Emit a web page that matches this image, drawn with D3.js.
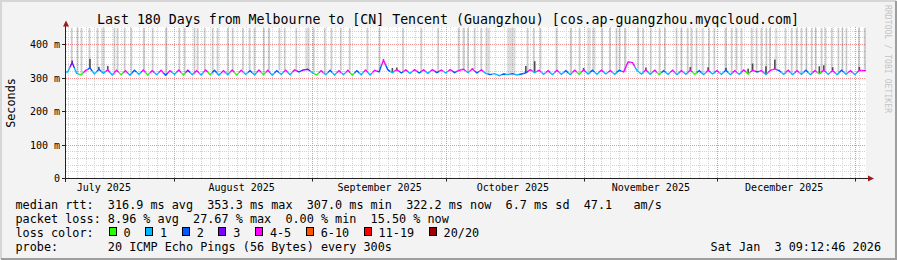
<!DOCTYPE html>
<html>
<head>
<meta charset="utf-8">
<script src="https://cdn.jsdelivr.net/npm/d3@7"></script>
<style>
  body { margin: 0; background: #f3f3f3; }
  svg { display: block; }
  text { font-family: "DejaVu Sans Mono", monospace; fill: #000; white-space: pre; }
</style>
</head>
<body>
<div id="chart"></div>
<script>
const titleText = "Last 180 Days from Melbourne to [CN] Tencent (Guangzhou) [cos.ap-guangzhou.myqcloud.com]";
const endTime = new Date(Date.UTC(2026, 0, 3, 9, 12, 46));
const spanDays = 180;

const yTicks = [0, 100, 200, 300, 400];
const yTickLabels = ["0", "100 m", "200 m", "300 m", "400 m"];

// one median rtt value (ms) per day, oldest first
const medianMs = [
  318, 346, 314, 309, 322, 330, 312, 326, 314, 324,
  309, 323, 310, 322, 308, 323, 311, 324, 309, 322,
  310, 323, 308, 322, 311, 324, 309, 323, 310, 322,
  309, 324, 310, 323, 308, 322, 310, 324, 309, 323,
  311, 322, 309, 324, 310, 323, 308, 322, 311, 323,
  310, 324, 318, 324, 326, 316, 309, 322, 310, 323,
  309, 322, 310, 323, 308, 322, 310, 324, 309, 323,
  318, 353, 324, 316, 325, 315, 324, 314, 325, 315,
  324, 314, 325, 316, 324, 315, 325, 316, 323, 326,
  316, 327, 315, 324, 314, 310, 313, 307, 312, 310,
  313, 309, 312, 315, 325, 316, 323, 311, 322, 310,
  323, 311, 322, 310, 323, 311, 324, 312, 323, 311,
  323, 312, 322, 311, 323, 318, 348, 346, 322, 312,
  324, 311, 323, 310, 322, 311, 323, 310, 322, 311,
  323, 311, 322, 310, 323, 312, 322, 311, 323, 310,
  322, 311, 324, 312, 323, 318, 322, 310, 323, 327,
  322, 311, 323, 310, 322, 311, 323, 310, 322, 312,
  323, 311, 322, 310, 323, 311, 322, 310, 323, 322
];

// lost pings (of 20) per day
const lossCount = [
  1, 3, 1, 0, 4, 2, 1, 2, 1, 4,
  1, 4, 0, 4, 1, 2, 1, 4, 0, 4,
  1, 4, 2, 4, 1, 4, 0, 3, 1, 4,
  1, 4, 0, 2, 1, 4, 1, 4, 0, 4,
  1, 2, 1, 4, 0, 4, 1, 2, 1, 4,
  1, 4, 2, 3, 3, 1, 0, 4, 1, 2,
  1, 4, 1, 4, 0, 2, 1, 4, 1, 4,
  2, 4, 2, 1, 4, 2, 4, 1, 4, 2,
  4, 1, 5, 2, 4, 1, 4, 2, 4, 5,
  1, 4, 2, 4, 1, 2, 1, 1, 2, 1,
  2, 1, 2, 2, 4, 1, 4, 1, 4, 1,
  4, 1, 2, 1, 4, 0, 4, 1, 2, 1,
  4, 1, 4, 1, 2, 4, 5, 4, 1, 1,
  4, 1, 4, 0, 2, 1, 4, 1, 4, 1,
  4, 0, 2, 1, 4, 1, 4, 1, 2, 1,
  4, 1, 4, 0, 4, 2, 4, 1, 4, 5,
  2, 1, 4, 1, 4, 1, 2, 1, 4, 0,
  4, 1, 4, 1, 2, 1, 4, 1, 4, 4
];

// smoke spikes: day index and highest ping (ms)
const smokeDay = [1, 5, 7, 9, 71, 73, 74, 91, 103, 105, 116, 130, 140, 144, 148, 153, 154, 157, 159, 169, 170, 172, 178];
const smokeTop = [352, 357, 333, 336, 356, 330, 331, 329, 336, 350, 330, 331, 333, 332, 330, 328, 343, 335, 355, 335, 338, 332, 333];

// periods where pings were lost: [start day, length in days]
const lossBars = [
  [1.2, 0.4], [2.5, 0.4], [3.4, 0.4], [5.2, 0.4], [7.0, 0.4], [8.0, 0.9], [10.8, 0.4], [11.5, 0.4],
  [13.1, 0.4], [14.6, 0.4], [17.4, 0.5], [19.4, 0.4], [22.4, 0.5], [25.4, 0.4], [26.6, 0.4], [28.8, 0.4],
  [29.5, 0.4], [31.1, 0.4], [32.9, 0.4], [34.0, 0.4], [36.3, 0.4], [37.4, 0.4], [39.7, 0.4], [41.2, 0.4],
  [42.3, 0.4], [44.4, 0.4], [45.5, 0.5], [47.9, 0.4], [49.1, 0.4], [51.7, 0.4], [53.9, 1.0], [55.6, 0.4],
  [58.1, 0.4], [59.6, 0.4], [61.7, 0.4], [63.7, 0.4], [67.7, 0.4], [70.4, 0.4], [75.7, 0.4], [79.8, 0.4],
  [83.6, 0.4], [88.2, 0.4], [89.3, 0.5], [90.3, 0.4], [91.8, 0.4], [93.3, 0.4], [94.4, 1.1], [99.3, 1.9],
  [103.7, 0.4], [105.1, 0.4], [106.6, 0.4], [110.2, 0.4], [113.4, 0.5], [115.4, 0.4], [117.3, 0.8], [118.4, 0.8],
  [120.5, 0.4], [122.2, 0.4], [123.7, 0.4], [124.4, 0.4], [125.6, 0.5], [128.6, 0.4], [129.7, 0.4], [131.4, 0.4],
  [133.4, 0.4], [134.6, 0.4], [137.2, 0.4], [138.3, 0.4], [139.7, 0.4], [140.6, 0.4], [141.7, 0.4], [143.0, 0.6],
  [144.5, 0.4], [145.7, 0.4], [148.2, 0.5], [149.6, 0.4], [150.7, 0.4], [151.8, 0.4], [154.1, 0.4], [155.2, 0.4],
  [156.3, 0.4], [157.4, 0.4], [158.2, 0.4], [159.5, 0.6], [161.7, 0.4], [163.1, 0.4], [164.2, 0.4], [165.3, 0.4],
  [166.4, 0.4], [167.6, 0.4], [168.5, 0.4], [169.8, 0.4], [170.7, 0.4], [172.1, 0.4], [173.6, 0.4], [174.5, 0.4],
  [175.4, 0.4], [178.2, 0.4], [179.5, 0.5]
];

const lossLabels = ["0", "1", "2", "3", "4-5", "6-10", "11-19", "20/20"];
const lossUpper = [0, 1, 2, 3, 5, 10, 19, 20];
const lossColors = ["#26ff00", "#00b8ff", "#0059ff", "#7e00ff", "#ff00ff", "#ff5500", "#ff0000", "#a00000"];

const statLines = [
  "median rtt:  316.9 ms avg  353.3 ms max  307.0 ms min  322.2 ms now  6.7 ms sd  47.1   am/s",
  "packet loss: 8.96 % avg  27.67 % max  0.00 % min  15.50 % now",
  "loss color:",
  "probe:       20 ICMP Echo Pings (56 Bytes) every 300s"
];
const stampText = "Sat Jan  3 09:12:46 2026";

const width = 897, height = 260;
const plot = { left: 65.5, right: 866, top: 27, bottom: 178.5 };
const startTime = new Date(endTime.getTime() - spanDays * 864e5);
const dayToDate = (d) => new Date(startTime.getTime() + d * 864e5);

const svg = d3.select("#chart").append("svg")
  .attr("width", width)
  .attr("height", height);

// frame
svg.append("rect").attr("width", width).attr("height", height).attr("fill", "#f3f3f3");
svg.append("path").attr("d", "M1,259V1H896").attr("fill", "none").attr("stroke", "#d6d6d6").attr("stroke-width", 2);
svg.append("path").attr("d", "M1,259H896V1").attr("fill", "none").attr("stroke", "#9e9e9e").attr("stroke-width", 2);

const xScale = d3.scaleUtc().domain([startTime, endTime]).range([plot.left, plot.right]);
const yScale = d3.scaleLinear().domain([0, 450]).range([plot.bottom, plot.bottom - 450 * 0.335]);

svg.append("rect")
  .attr("x", 66).attr("y", plot.top)
  .attr("width", plot.right - 66).attr("height", 178 - plot.top)
  .attr("fill", "#ffffff");

const snap = (v) => Math.floor(v) + 0.5;
const grid = svg.append("g").attr("fill", "none").attr("stroke-dasharray", "1,1").attr("stroke-width", 1);

// minor grid
const minorY = d3.range(20, 450, 20).filter((v) => v % 100 !== 0);
grid.selectAll("line.minorY").data(minorY).enter().append("line")
  .attr("x1", 66).attr("x2", plot.right)
  .attr("y1", (d) => snap(yScale(d))).attr("y2", (d) => snap(yScale(d)))
  .attr("stroke", "#d2d2d2");

const monthStarts = d3.utcMonth.range(d3.utcMonth.ceil(startTime), endTime);
const minorX = d3.utcDay.range(d3.utcDay.ceil(startTime), endTime, 2)
  .filter((d) => d.getUTCDate() !== 1);
grid.selectAll("line.minorX").data(minorX).enter().append("line")
  .attr("x1", (d) => snap(xScale(d))).attr("x2", (d) => snap(xScale(d)))
  .attr("y1", plot.top).attr("y2", 178)
  .attr("stroke", "#d2d2d2");

// major grid
grid.selectAll("line.majorY").data(yTicks.slice(1)).enter().append("line")
  .attr("x1", 66).attr("x2", plot.right)
  .attr("y1", (d) => snap(yScale(d))).attr("y2", (d) => snap(yScale(d)))
  .attr("stroke", "#f19090");
grid.selectAll("line.majorX").data(monthStarts).enter().append("line")
  .attr("x1", (d) => snap(xScale(d))).attr("x2", (d) => snap(xScale(d)))
  .attr("y1", plot.top).attr("y2", 178)
  .attr("stroke", "#f19090");

// lost pings reach the top of the graph
svg.append("g").selectAll("rect").data(lossBars).enter().append("rect")
  .attr("x", (d) => xScale(dayToDate(d[0])))
  .attr("width", (d) => Math.max(1, xScale(dayToDate(d[0] + d[1])) - xScale(dayToDate(d[0]))))
  .attr("y", yScale(450))
  .attr("height", (d) => yScale(medianMs[Math.min(179, Math.floor(d[0]))]) - yScale(450))
  .attr("fill", "#000")
  .attr("fill-opacity", (d) => d[1] > 0.5 ? 0.13 : 0.2);

// smoke
svg.append("g").selectAll("rect").data(smokeDay).enter().append("rect")
  .attr("x", (d) => xScale(dayToDate(d + 0.5)) - 0.8)
  .attr("width", 1.6)
  .attr("y", (d, i) => yScale(smokeTop[i]))
  .attr("height", (d, i) => yScale(medianMs[d]) - yScale(smokeTop[i]))
  .attr("fill", "#333")
  .attr("fill-opacity", 0.85);

// median line, coloured by loss
const lossBin = (n) => lossUpper.findIndex((u) => n <= u);
const pts = medianMs.map((v, i) => [xScale(dayToDate(i + 0.5)), yScale(v)]);
const mid = (a, b) => [(a[0] + b[0]) / 2, (a[1] + b[1]) / 2];
const segs = pts.map((p, i) => {
  const a = i > 0 ? mid(pts[i - 1], p) : [plot.left + 0.5, p[1]];
  const b = i < pts.length - 1 ? mid(p, pts[i + 1]) : [plot.right, p[1]];
  return { path: [a, p, b], color: lossColors[lossBin(lossCount[i])] };
});
svg.append("g").selectAll("path").data(segs).enter().append("path")
  .attr("d", (d) => d3.line()(d.path))
  .attr("fill", "none")
  .attr("stroke", (d) => d.color)
  .attr("stroke-width", 1.4);

// axes
const axis = svg.append("g").attr("stroke", "#222").attr("stroke-width", 1).attr("fill", "none");
axis.append("line").attr("x1", 65.5).attr("x2", 65.5).attr("y1", 26).attr("y2", 182);
axis.append("line").attr("x1", 62).attr("x2", 868).attr("y1", 178.5).attr("y2", 178.5);
axis.selectAll("line.ty").data(yTicks).enter().append("line")
  .attr("x1", 62).attr("x2", 65.5)
  .attr("y1", (d) => snap(yScale(d))).attr("y2", (d) => snap(yScale(d)));
axis.selectAll("line.tx").data(monthStarts).enter().append("line")
  .attr("x1", (d) => snap(xScale(d))).attr("x2", (d) => snap(xScale(d)))
  .attr("y1", 178.5).attr("y2", 181.5);
svg.append("path").attr("d", "M63,26.5L66,20.5L69,26.5Z").attr("fill", "#9b1c1c");
svg.append("path").attr("d", "M868,175.5L874,178.5L868,181.5Z").attr("fill", "#9b1c1c");

// y labels
svg.append("g").selectAll("text").data(yTicks).enter().append("text")
  .attr("x", 60)
  .attr("y", (d) => snap(yScale(d)) + 3.5)
  .attr("text-anchor", "end")
  .style("font-size", "10px")
  .text((d, i) => yTickLabels[i]);

// month labels, centred half a month after the month start
const monthLabels = d3.utcMonth.range(d3.utcMonth.floor(startTime), endTime)
  .map((d) => d3.utcDay.offset(d, 15))
  .filter((d) => d >= startTime && d <= endTime);
svg.append("g").selectAll("text").data(monthLabels).enter().append("text")
  .attr("x", (d) => xScale(d))
  .attr("y", 191)
  .attr("text-anchor", "middle")
  .style("font-size", "10px")
  .text(d3.utcFormat("%B %Y"));

// title and side labels
svg.append("text")
  .attr("x", 448).attr("y", 23.5)
  .attr("text-anchor", "middle")
  .style("font-size", "13.25px")
  .text(titleText);

svg.append("text")
  .attr("transform", "translate(15,103) rotate(-90)")
  .attr("text-anchor", "middle")
  .style("font-size", "11.8px")
  .text("Seconds");

svg.append("text")
  .attr("transform", "translate(885,59) rotate(90)")
  .attr("text-anchor", "middle")
  .style("font-size", "8px")
  .style("fill", "#c4c4c4")
  .attr("textLength", 108)
  .text("RRDTOOL / TOBI OETIKER");

// legend
const legend = svg.append("g").style("font-size", "11.8px");
legend.selectAll("text.stat").data(statLines).enter().append("text")
  .attr("x", 15.5)
  .attr("y", (d, i) => 208.5 + i * 14)
  .text((d) => d);

const charW = 7.1;
let lx = 123.5;
const legendPos = lossLabels.map((l) => {
  const p = lx;
  lx += l.length * charW + 29.5;
  return p;
});
legend.selectAll("rect.sw").data(lossLabels).enter().append("rect")
  .attr("x", (d, i) => Math.round(legendPos[i] - 15) + 0.5)
  .attr("y", 227.5)
  .attr("width", 7).attr("height", 8)
  .attr("fill", (d, i) => lossColors[i])
  .attr("stroke", "#000");
legend.selectAll("text.lab").data(lossLabels).enter().append("text")
  .attr("x", (d, i) => legendPos[i])
  .attr("y", 236.5)
  .text((d) => d);

legend.append("text")
  .attr("x", 881).attr("y", 250.5)
  .attr("text-anchor", "end")
  .text(stampText);
</script>
</body>
</html>
